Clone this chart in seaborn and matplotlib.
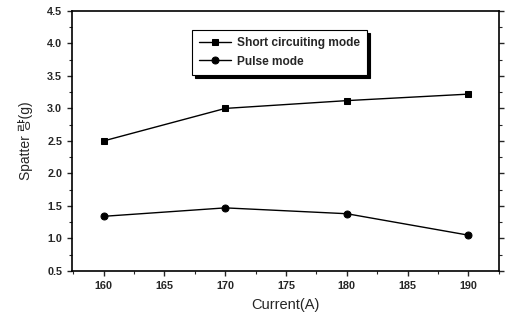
import matplotlib
matplotlib.use("Agg")
import matplotlib.pyplot as plt
import seaborn as sns
import pandas as pd
from matplotlib.ticker import MultipleLocator

current = [160, 170, 180, 190]
short_circuit = [2.50, 3.00, 3.12, 3.22]
pulse = [1.34, 1.47, 1.38, 1.05]
series_names = ["Short circuiting mode", "Pulse mode"]

sns.set_style("ticks")
plt.rcParams['font.family'] = ['Liberation Sans', 'Noto Sans CJK KR', 'DejaVu Sans']

df = pd.DataFrame({
    "Current": current * 2,
    "Spatter": short_circuit + pulse,
    "Mode": [series_names[0]] * 4 + [series_names[1]] * 4,
})

fig = plt.figure(figsize=(5.07, 3.21), dpi=100)
ax = fig.add_axes([0.142, 0.156, 0.842, 0.810])

sns.lineplot(data=df, x="Current", y="Spatter", hue="Mode", style="Mode",
             markers={series_names[0]: "s", series_names[1]: "o"}, dashes=False,
             palette=["black", "black"], linewidth=1.0, markersize=5,
             markeredgecolor="black", ax=ax)

ax.set_xlim(157.4, 192.5)
ax.set_ylim(0.5, 4.5)
ax.xaxis.set_major_locator(MultipleLocator(5))
ax.xaxis.set_minor_locator(MultipleLocator(2.5))
ax.yaxis.set_major_locator(MultipleLocator(0.5))
ax.yaxis.set_minor_locator(MultipleLocator(0.25))
ax.set_yticklabels([f"{v:.1f}" for v in ax.get_yticks()])
ax.tick_params(axis="both", which="major", length=3.5, width=1, labelsize=7.8, direction="out",
               right=True, top=False)
ax.tick_params(axis="both", which="minor", length=2, width=0.8, direction="out",
               right=True, top=False)
for s in ax.spines.values():
    s.set_visible(True)
    s.set_linewidth(1.2)
    s.set_color("black")
for lab in ax.get_xticklabels() + ax.get_yticklabels():
    lab.set_fontweight("bold")

ax.set_xlabel("Current(A)", fontsize=10.5, labelpad=5)
ax.set_ylabel("Spatter 량(g)", fontsize=10, labelpad=10,
              fontfamily=['Liberation Sans', 'Noto Sans CJK KR'])

leg = ax.legend(loc="upper left", bbox_to_anchor=(0.281, 0.927), borderaxespad=0,
                frameon=True, fancybox=False,
                shadow={"color": "black", "alpha": 1, "ox": 2, "oy": -2},
                edgecolor="black", fontsize=8.6, handlelength=2.7,
                borderpad=0.6, labelspacing=0.55, handletextpad=0.45, title=None)
leg.get_frame().set_linewidth(0.8)
for t in leg.get_texts():
    t.set_fontweight("bold")

fig.savefig("out.png", dpi=100)
